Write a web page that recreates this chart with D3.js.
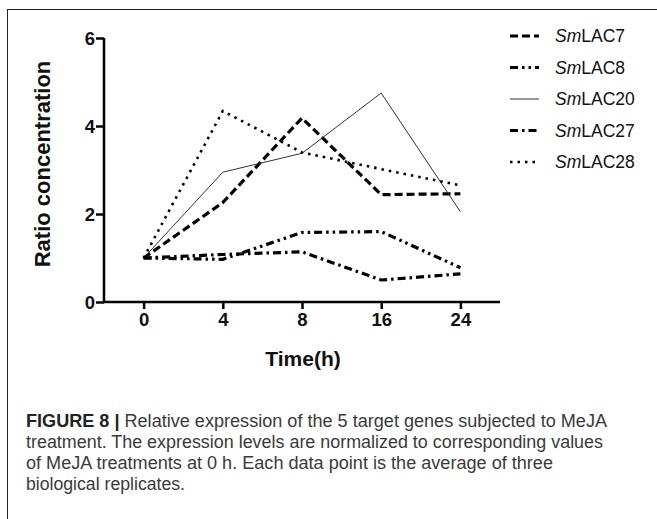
<!DOCTYPE html>
<html>
<head>
<meta charset="utf-8">
<script src="https://cdn.jsdelivr.net/npm/d3@7"></script>
<style>
  body { margin: 0; background: #fff; }
  text { font-family: "Liberation Sans", Arial, sans-serif; }
  .tick text { font-weight: bold; font-size: 18.5px; fill: #111; }
  .axisTitle { font-weight: bold; fill: #111; }
  .legendText { font-size: 17.5px; fill: #111; }
  .caption { font-size: 17.5px; fill: #3a3a3a; }
</style>
</head>
<body>
<script>
// chart data
var timeLabels = ["0", "4", "8", "16", "24"];
var yTicks = [0, 2, 4, 6];
var geneNames = ["LAC7", "LAC8", "LAC20", "LAC27", "LAC28"];
var lac7 = [1.0, 2.26, 4.18, 2.44, 2.46];
var lac8 = [1.0, 0.97, 1.58, 1.60, 0.78];
var lac20 = [1.0, 2.95, 3.38, 4.75, 2.05];
var lac27 = [1.0, 1.08, 1.14, 0.50, 0.64];
var lac28 = [1.0, 4.34, 3.40, 3.02, 2.65];
var captionLines = [
  "treatment. The expression levels are normalized to corresponding values",
  "of MeJA treatments at 0 h. Each data point is the average of three",
  "biological replicates."
];
// measured widths of the caption lines in the figure
var captionWidths = [581, 577, 527, 159];

(function(){
  var width = 657, height = 519;

  var svg = d3.select("body")
    .append("svg")
    .attr("width", width)
    .attr("height", height);

  // outer frame (right side runs off the page)
  svg.append("rect")
    .attr("x", 7.5)
    .attr("y", 9.5)
    .attr("width", 700)
    .attr("height", 600)
    .attr("fill", "none")
    .attr("stroke", "#222")
    .attr("stroke-width", 1);

  // plot area
  var x = d3.scalePoint()
    .domain(timeLabels)
    .range([104, 500])
    .padding(0.5);

  var y = d3.scaleLinear()
    .domain([0, 6])
    .range([302, 38]);

  // line styles for each series
  var series = [
    {name: geneNames[0], values: lac7, dash: "8,4", width: 3.2, color: "#000"},
    {name: geneNames[1], values: lac8, dash: "8,4,2.5,4,2.5,4", width: 3.2, color: "#000"},
    {name: geneNames[2], values: lac20, dash: null, width: 1, color: "#333"},
    {name: geneNames[3], values: lac27, dash: "8,4,2.5,4", width: 3.2, color: "#000"},
    {name: geneNames[4], values: lac28, dash: "2.5,5", width: 2.6, color: "#000"}
  ];

  // axes
  var xAxis = svg.append("g")
    .attr("transform", "translate(0,302)")
    .call(d3.axisBottom(x).tickSizeInner(7).tickSizeOuter(0).tickPadding(4));
  xAxis.select(".domain")
    .attr("d", "M104,0H500")
    .attr("stroke-width", 2.5);
  xAxis.selectAll(".tick line").attr("stroke-width", 2.5);

  var yAxis = svg.append("g")
    .attr("transform", "translate(104,0)")
    .call(d3.axisLeft(y).tickValues(yTicks).tickFormat(d3.format("d"))
      .tickSizeInner(8).tickSizeOuter(0).tickPadding(1));
  yAxis.select(".domain")
    .attr("d", "M0,38V303")
    .attr("stroke-width", 2.5);
  yAxis.selectAll(".tick line").attr("stroke-width", 2.5);
  yAxis.selectAll(".tick text").attr("dy", "0.36em");

  // axis titles
  svg.append("text")
    .attr("class", "axisTitle")
    .attr("text-anchor", "middle")
    .attr("font-size", "21px")
    .attr("x", 303)
    .attr("y", 366)
    .text("Time(h)");

  svg.append("text")
    .attr("class", "axisTitle")
    .attr("text-anchor", "middle")
    .attr("font-size", "22px")
    .attr("transform", "translate(50,164) rotate(-90)")
    .text("Ratio concentration");

  // series lines
  var line = d3.line()
    .x(function(d, i){ return x(timeLabels[i]); })
    .y(function(d){ return y(d); });

  svg.selectAll(".seriesLine")
    .data(series)
    .enter()
    .append("path")
    .attr("class", "seriesLine")
    .attr("d", function(d){ return line(d.values); })
    .attr("fill", "none")
    .attr("stroke", function(d){ return d.color; })
    .attr("stroke-width", function(d){ return d.width; })
    .attr("stroke-dasharray", function(d){ return d.dash; });

  // legend
  var legend = svg.selectAll(".legendItem")
    .data(series)
    .enter()
    .append("g")
    .attr("class", "legendItem")
    .attr("transform", function(d, i){ return "translate(510," + (36 + i * 31.5) + ")"; });

  legend.append("line")
    .attr("x1", 0)
    .attr("x2", 29)
    .attr("stroke", function(d){ return d.color; })
    .attr("stroke-width", function(d){ return d.width; })
    .attr("stroke-dasharray", function(d){ return d.dash; });

  var lt = legend.append("text")
    .attr("class", "legendText")
    .attr("x", 45)
    .attr("y", 6);
  lt.append("tspan").attr("font-style", "italic").text("Sm");
  lt.append("tspan").text(function(d){ return d.name; });

  // caption
  var cap = svg.append("text")
    .attr("class", "caption")
    .attr("x", 26)
    .attr("y", 427)
    .attr("textLength", captionWidths[0])
    .attr("lengthAdjust", "spacingAndGlyphs");
  cap.append("tspan").attr("font-weight", "bold").attr("fill", "#222").text("FIGURE 8 | ");
  cap.append("tspan").text("Relative expression of the 5 target genes subjected to MeJA");

  svg.selectAll(".captionLine")
    .data(captionLines)
    .enter()
    .append("text")
    .attr("class", "caption captionLine")
    .attr("x", 26)
    .attr("y", function(d, i){ return 448 + i * 21; })
    .attr("textLength", function(d, i){ return captionWidths[i + 1]; })
    .attr("lengthAdjust", "spacingAndGlyphs")
    .text(function(d){ return d; });
})();
</script>
</body>
</html>
